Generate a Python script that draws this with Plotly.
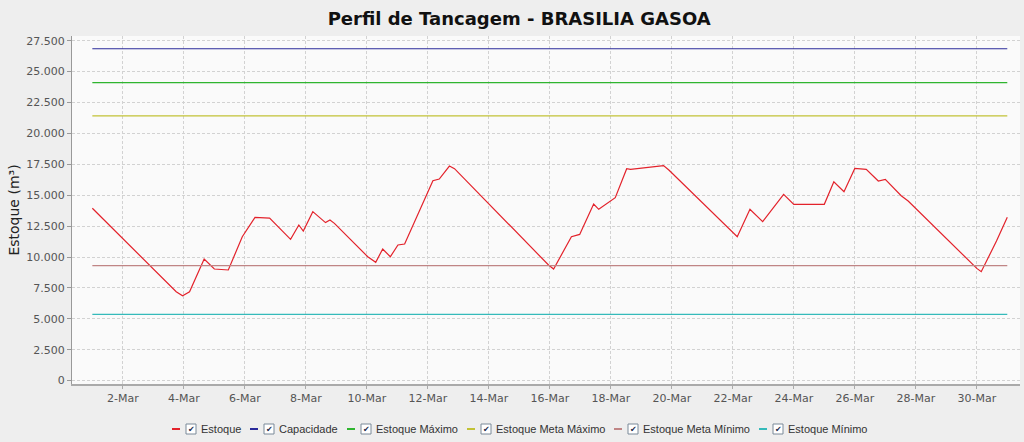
import plotly.graph_objects as go

# ---- data ----
estoque_t = [
    "2015-03-01 00:00", "2015-03-03 18:00", "2015-03-03 23:00", "2015-03-04 04:30",
    "2015-03-04 16:00", "2015-03-05 00:00", "2015-03-05 11:00", "2015-03-05 22:00",
    "2015-03-06 08:00", "2015-03-06 19:30", "2015-03-07 12:00", "2015-03-07 18:30",
    "2015-03-07 22:00", "2015-03-08 05:30", "2015-03-08 15:30", "2015-03-08 19:00",
    "2015-03-08 22:30", "2015-03-10 00:45", "2015-03-10 07:00", "2015-03-10 12:30",
    "2015-03-10 18:30", "2015-03-11 00:30", "2015-03-11 05:45", "2015-03-12 04:00",
    "2015-03-12 09:00", "2015-03-12 17:00", "2015-03-12 21:00", "2015-03-15 23:00",
    "2015-03-16 03:00", "2015-03-16 17:00", "2015-03-16 23:30", "2015-03-17 10:30",
    "2015-03-17 14:30", "2015-03-18 03:30", "2015-03-18 12:30", "2015-03-18 15:30",
    "2015-03-19 17:30", "2015-03-19 21:40", "2015-03-22 03:30", "2015-03-22 13:30",
    "2015-03-22 23:30", "2015-03-23 16:00", "2015-03-24 00:00", "2015-03-25 00:00",
    "2015-03-25 07:30", "2015-03-25 15:30", "2015-03-26 00:00", "2015-03-26 09:00",
    "2015-03-26 18:30", "2015-03-27 00:00", "2015-03-27 12:30", "2015-03-27 18:00",
    "2015-03-30 00:00", "2015-03-30 03:30", "2015-03-30 15:30", "2015-03-31 00:00",
]
estoque_v = [
    13940, 7190, 6870, 7190,
    9840, 9030, 8950, 11640,
    13210, 13150, 11430, 12590,
    12100, 13670, 12780, 12990,
    12720, 10020, 9570, 10650,
    10020, 10970, 11050, 16170,
    16310, 17360, 17150, 9350,
    9030, 11640, 11830, 14290,
    13860, 14800, 17140, 17090,
    17390, 17040, 11640, 13860,
    12860, 15070, 14260, 14260,
    16090, 15280, 17170, 17090,
    16150, 16280, 14960, 14530,
    9080, 8810, 11290, 13210,
]

ref_t = ["2015-03-01 00:00", "2015-03-31 00:00"]
capacidade = [26850, 26850]
estoque_maximo = [24100, 24100]
meta_maximo = [21420, 21420]
meta_minimo = [9300, 9300]
estoque_minimo = [5350, 5350]

y_ticks = list(range(0, 27501, 2500))
x_ticks = [f"2015-03-{d:02d}" for d in range(2, 31, 2)]

series_names = ["Estoque", "Capacidade", "Estoque Máximo", "Estoque Meta Máximo",
                "Estoque Meta Mínimo", "Estoque Mínimo"]
series_x = [estoque_t, ref_t, ref_t, ref_t, ref_t, ref_t]
series_y = [estoque_v, capacidade, estoque_maximo, meta_maximo, meta_minimo, estoque_minimo]
colors = ["#e3222b", "#2a2a9a", "#2fb52f", "#c2c236", "#c08585", "#35baba"]

# layout geometry (pixels)
W, H = 1024, 442
L, R, T, B = 72, 4, 36, 58
PW, PH = W - L - R, H - T - B
legend_px = [172, 250, 347, 467, 614, 759]   # start of each legend item
legend_py = 429

def xp(px):
    return (px - L) / PW

def yp(py):
    return (H - B - py) / PH

fig = go.Figure()
for name, xs, ys, col in zip(series_names, series_x, series_y, colors):
    fig.add_trace(go.Scatter(x=xs, y=ys, mode="lines", name=name,
                             line=dict(color=col, width=1.2)))

shapes, annots = [], []
for name, col, px in zip(series_names, colors, legend_px):
    shapes.append(dict(type="line", xref="paper", yref="paper",
                       x0=xp(px), x1=xp(px + 8), y0=yp(legend_py), y1=yp(legend_py),
                       line=dict(color=col, width=2)))
    shapes.append(dict(type="rect", xref="paper", yref="paper",
                       x0=xp(px + 14), x1=xp(px + 24), y0=yp(legend_py + 5), y1=yp(legend_py - 5),
                       line=dict(color="#7a8a99", width=1), fillcolor="#ffffff"))
    annots.append(dict(xref="paper", yref="paper", x=xp(px + 19), y=yp(legend_py),
                       text="✔", showarrow=False, xanchor="center", yanchor="middle",
                       font=dict(family="DejaVu Sans", size=8, color="#1a2a4a")))
    annots.append(dict(xref="paper", yref="paper", x=xp(px + 27), y=yp(legend_py),
                       text=name, showarrow=False, xanchor="left", yanchor="middle",
                       font=dict(family="Liberation Sans", size=11, color="#333333")))

fig.update_layout(
    width=W, height=H,
    paper_bgcolor="#eeeeee",
    plot_bgcolor="#fafafa",
    margin=dict(l=L, r=R, t=T, b=B),
    separators=",.",
    showlegend=False,
    font=dict(family="DejaVu Sans", size=11, color="#555555"),
    title=dict(
        text="<b>Perfil de Tancagem - BRASILIA GASOA</b>",
        x=0.507, xanchor="center", y=0.957, yanchor="middle",
        font=dict(family="DejaVu Sans", size=18, color="#111111"),
    ),
    shapes=shapes,
    annotations=annots,
)

fig.update_xaxes(
    type="date",
    range=["2015-02-28 08:00", "2015-03-31 10:00"],
    tickvals=x_ticks, tickformat="%-d-%b",
    showgrid=True, gridcolor="#d2d2d2", griddash="3px,2px", gridwidth=1,
    showline=True, linecolor="#aaaaaa", linewidth=2,
    ticks="outside", ticklen=3, tickcolor="#aaaaaa",
    zeroline=False,
    tickfont=dict(family="DejaVu Sans", size=11, color="#555555"),
)
fig.update_yaxes(
    range=[-275, 27880],
    tickvals=y_ticks, tickformat=",d",
    showgrid=True, gridcolor="#d2d2d2", griddash="3px,2px", gridwidth=1,
    showline=True, linecolor="#999999", linewidth=1,
    ticks="outside", ticklen=4, tickcolor="#999999",
    zeroline=False,
    title=dict(text="Estoque (m³)", standoff=3,
               font=dict(family="DejaVu Sans", size=14, color="#222222")),
    tickfont=dict(family="DejaVu Sans", size=11, color="#555555"),
)

fig.write_html("out.html")
